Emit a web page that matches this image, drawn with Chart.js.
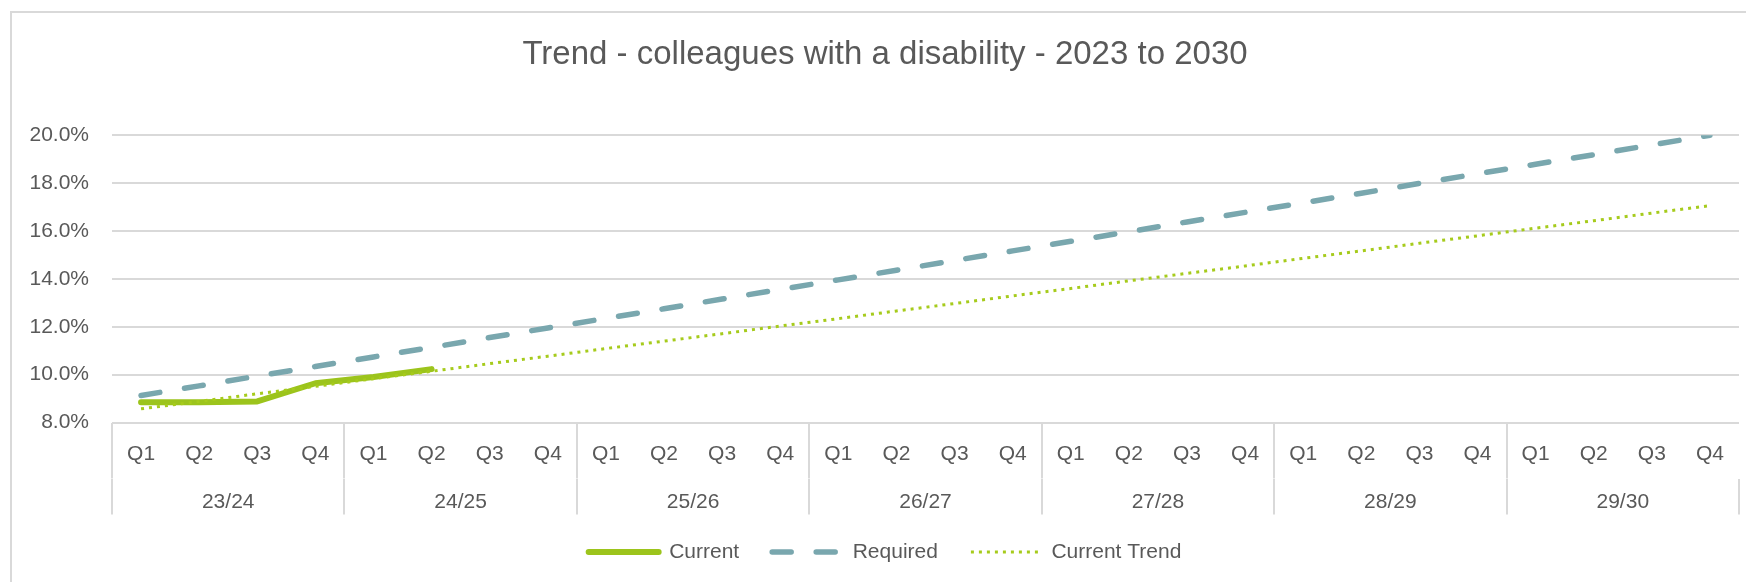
<!DOCTYPE html>
<html>
<head>
<meta charset="utf-8">
<script src="https://cdn.jsdelivr.net/npm/chart.js@4.4.1/dist/chart.umd.min.js"></script>
<style>
  html, body { margin: 0; padding: 0; background: #ffffff; overflow: hidden; width: 1746px; height: 582px; }
  #wrap { position: absolute; left: 10px; top: 12px; width: 1750px; height: 570px; }
  #frame { position: absolute; left: 10px; top: 11px; width: 1800px; height: 620px;
           border-left: 2px solid #d9d9d9; border-top: 2px solid #d9d9d9; pointer-events: none; }
</style>
</head>
<body>
<div id="wrap"><canvas id="chart" width="1750" height="570" style="width:1750px;height:570px"></canvas></div>
<div id="frame"></div>
<script>
// ---- data ----
const titleText = 'Trend - colleagues with a disability - 2023 to 2030';
const years = ['23/24', '24/25', '25/26', '26/27', '27/28', '28/29', '29/30'];
const quarterNames = ['Q1', 'Q2', 'Q3', 'Q4'];
const seriesNames = ['Current', 'Required', 'Current Trend'];

// values in percent
const currentValues = [8.85, 8.85, 8.88, 9.64, 9.90, 10.23];
const requiredValues = [
  9.13, 9.53, 9.94, 10.34, 10.74, 11.14, 11.55, 11.95, 12.35, 12.75,
  13.16, 13.56, 13.96, 14.36, 14.77, 15.17, 15.57, 15.97, 16.38, 16.78,
  17.18, 17.58, 17.99, 18.39, 18.79, 19.19, 19.60, 20.00
];
const trendValues = [
  8.57, 8.88, 9.20, 9.51, 9.83, 10.14, 10.46, 10.77, 11.09, 11.40,
  11.71, 12.03, 12.34, 12.66, 12.97, 13.29, 13.60, 13.92, 14.23, 14.54,
  14.86, 15.17, 15.49, 15.80, 16.12, 16.43, 16.75, 17.06
];
const yMin = 8;
const yMax = 20;
const yStep = 2;

// ---- chart ----
const categories = years.flatMap(() => quarterNames);
const textColor = '#595959';
const gridColor = '#d9d9d9';
const FONT = "'Liberation Sans', Arial, sans-serif";

const datasets = [
  {
    label: seriesNames[0], data: currentValues,
    borderColor: '#9cc41c', backgroundColor: '#9cc41c',
    borderWidth: 6, borderCapStyle: 'round', borderJoinStyle: 'round',
    pointRadius: 0, tension: 0, fill: false, order: 1
  },
  {
    label: seriesNames[1], data: requiredValues,
    borderColor: '#79a7ae', backgroundColor: '#79a7ae',
    borderWidth: 5.5, borderDash: [19, 25], borderCapStyle: 'round', borderJoinStyle: 'round',
    pointRadius: 0, tension: 0, fill: false, order: 2
  },
  {
    label: seriesNames[2], data: trendValues,
    borderColor: '#a6cb1c', backgroundColor: '#a6cb1c',
    borderWidth: 3, borderDash: [3, 5], borderCapStyle: 'butt',
    pointRadius: 0, tension: 0, fill: false, order: 0
  }
];

new Chart(document.getElementById('chart'), {
  type: 'line',
  data: { labels: categories, datasets },
  options: {
    responsive: false,
    animation: false,
    devicePixelRatio: 1,
    layout: { padding: { left: 0, right: 0, top: 0, bottom: 9.5 } },
    plugins: {
      tooltip: { enabled: false },
      title: {
        display: true, text: titleText, color: textColor,
        font: { family: FONT, size: 33, weight: 'normal', lineHeight: 1.2 },
        padding: { top: 22.9, bottom: 60.8 }
      },
      legend: {
        display: true, position: 'bottom',
        labels: {
          color: textColor,
          font: { family: FONT, size: 21 },
          usePointStyle: true, pointStyle: 'line', pointStyleWidth: 70,
          padding: 33,
          generateLabels: (chart) => chart.data.datasets.map((ds, i) => ({
            text: ds.label,
            fillStyle: ds.borderColor,
            strokeStyle: ds.borderColor,
            lineWidth: ds.borderWidth,
            lineDash: ds.borderDash || [],
            lineCap: i === 2 ? 'butt' : 'round',
            pointStyle: 'line',
            fontColor: textColor,
            hidden: false,
            datasetIndex: i
          }))
        }
      }
    },
    scales: {
      x: {
        type: 'category', position: 'bottom', offset: true, weight: 0,
        border: { display: false },
        grid: {
          display: true, offset: true, drawOnChartArea: false, drawTicks: true,
          tickLength: 56, lineWidth: 2,
          color: (ctx) => (ctx.index % 4 === 0 ? gridColor : 'rgba(0,0,0,0)')
        },
        ticks: {
          color: textColor, font: { family: FONT, size: 21 },
          autoSkip: false, maxRotation: 0, padding: -37.1
        },
        afterFit: (s) => { s.height = 56; }
      },
      x2: {
        type: 'category', position: 'bottom', offset: true, weight: 1,
        labels: years,
        border: { display: false },
        grid: {
          display: true, offset: true, drawOnChartArea: false, drawTicks: true,
          tickLength: 36, lineWidth: 2, color: gridColor
        },
        ticks: {
          color: textColor, font: { family: FONT, size: 21 },
          autoSkip: false, maxRotation: 0, padding: -25.1
        },
        afterFit: (s) => { s.height = 30; }
      },
      y: {
        type: 'linear', position: 'left', min: yMin, max: yMax,
        border: { display: false },
        grid: { color: gridColor, lineWidth: 2, drawTicks: false },
        ticks: {
          stepSize: yStep, color: textColor, padding: 23,
          font: { family: FONT, size: 21 },
          callback: (v) => v.toFixed(1) + '%'
        },
        afterFit: (s) => { s.width = 102; }
      },
      yRight: {
        type: 'linear', position: 'right', display: true,
        border: { display: false },
        grid: { display: false, drawTicks: false },
        ticks: { display: false },
        afterFit: (s) => { s.width = 21; }
      }
    }
  }
});
</script>
</body>
</html>
